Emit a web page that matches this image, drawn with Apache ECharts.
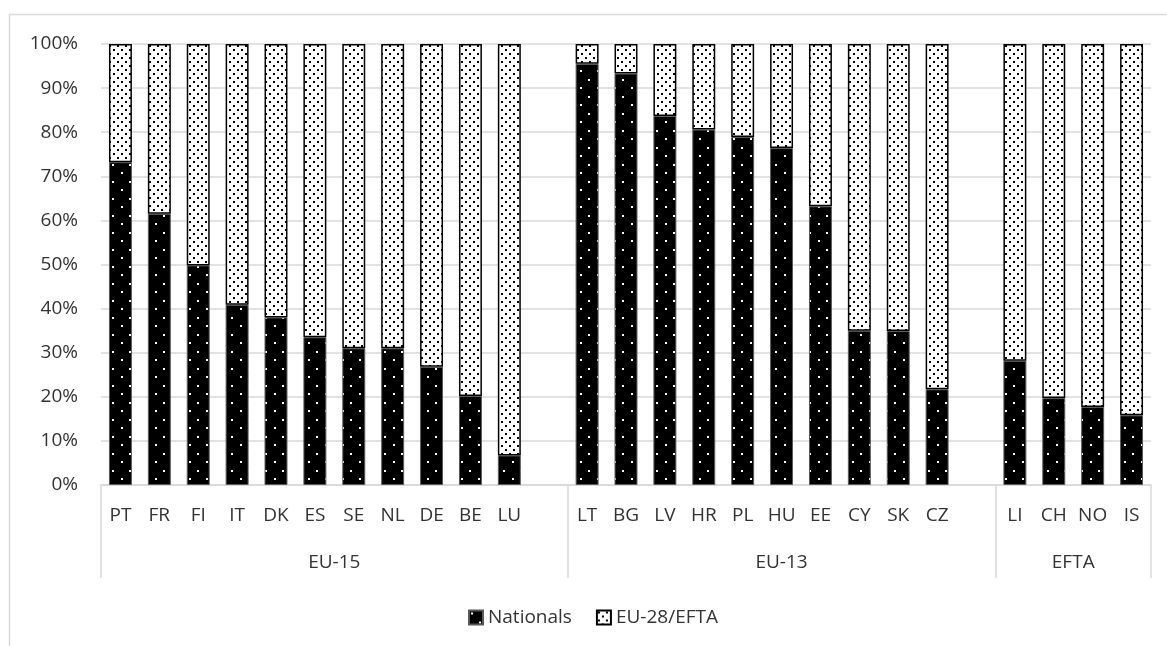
<!DOCTYPE html>
<html>
<head>
<meta charset="utf-8">
<script src="https://cdn.jsdelivr.net/npm/echarts@6/dist/echarts.min.js"></script>
<style>
  html, body { margin: 0; padding: 0; background: #fff; }
  #main { width: 1167px; height: 646px; }
</style>
</head>
<body>
<div id="main"></div>
<script>
// countries, with an empty slot between the groups
var countries = ['PT','FR','FI','IT','DK','ES','SE','NL','DE','BE','LU','',
                 'LT','BG','LV','HR','PL','HU','EE','CY','SK','CZ','',
                 'LI','CH','NO','IS'];
var groups = ['EU-15', 'EU-13', 'EFTA'];
var groupEdges = [0, 12, 23, 27];
var groupCenters = [6, 17.5, 25];

var nationals = [73.2, 61.5, 49.8, 40.9, 38.0, 33.5, 31.0, 31.0, 26.8, 20.2, 6.7, null,
                 95.5, 93.3, 83.7, 80.6, 78.9, 76.4, 63.2, 35.0, 34.9, 21.7, null,
                 28.2, 19.7, 17.7, 15.8];
var eu28 = [26.8, 38.5, 50.2, 59.1, 62.0, 66.5, 69.0, 69.0, 73.2, 79.8, 93.3, null,
            4.5, 6.7, 16.3, 19.4, 21.1, 23.6, 36.8, 65.0, 65.1, 78.3, null,
            71.8, 80.3, 82.3, 84.2];
var yTicks = [0, 100, 10];

var fontFamily = '"Open Sans", "Noto Sans", sans-serif';
var fontSize = 19;
var textColor = '#333';
var lineGray = '#d9d9d9';

// dotted fills like the Excel pattern fills
function dots(bg, fg, w, h, pts) {
    var c = document.createElement('canvas');
    c.width = w; c.height = h;
    var ctx = c.getContext('2d');
    ctx.fillStyle = bg;
    ctx.fillRect(0, 0, w, h);
    ctx.fillStyle = fg;
    pts.forEach(function (p) { ctx.fillRect(p[0], p[1], 2, 2); });
    return c;
}
var darkFill = { image: dots('#000', '#fff', 17, 17, [[2, 2], [10, 11]]), repeat: 'repeat' };
var lightFill = { image: dots('#fff', '#000', 8, 8, [[1, 1], [5, 5]]), repeat: 'repeat' };

var myChart = echarts.init(document.getElementById('main'));
var option = {
    animation: false,
    textStyle: { fontFamily: fontFamily },
    graphic: [{
        type: 'rect',
        shape: { x: 9.5, y: 14.5, width: 1300, height: 800 },
        style: { fill: 'none', stroke: lineGray, lineWidth: 1.5 },
        silent: true
    }],
    grid: { left: 101, right: 16, top: 44, bottom: 161 },
    legend: {
        top: 603,
        left: 463,
        icon: 'rect',
        itemWidth: 14,
        itemHeight: 14,
        itemGap: 24,
        textStyle: { fontSize: fontSize, color: textColor, fontFamily: fontFamily },
        data: ['Nationals', 'EU-28/EFTA']
    },
    xAxis: [
        {
            type: 'category',
            data: countries,
            axisLine: { lineStyle: { color: lineGray, width: 1.5 } },
            axisTick: { show: false },
            axisLabel: { interval: 0, fontSize: fontSize, color: textColor, margin: 21 }
        },
        {
            type: 'value',
            min: 0,
            max: countries.length,
            position: 'bottom',
            axisLine: { show: false },
            splitLine: { show: false },
            axisTick: {
                show: true,
                customValues: groupEdges,
                length: 93,
                lineStyle: { color: lineGray, width: 1.5 }
            },
            axisLabel: {
                customValues: groupCenters,
                margin: 68,
                fontSize: fontSize,
                color: textColor,
                formatter: function (v) {
                    var i = groupCenters.indexOf(v);
                    return i >= 0 ? groups[i] : '';
                }
            }
        }
    ],
    yAxis: {
        type: 'value',
        min: yTicks[0],
        max: yTicks[1],
        interval: yTicks[2],
        axisLine: { show: false },
        axisTick: { show: false },
        axisLabel: { formatter: '{value}%', fontSize: fontSize, color: textColor, margin: 23 },
        splitLine: { lineStyle: { color: lineGray, width: 1.5 } }
    },
    series: [
        {
            name: 'Nationals',
            type: 'bar',
            stack: 'share',
            data: nationals,
            barCategoryGap: '41%',
            itemStyle: { color: darkFill, borderColor: '#595959', borderWidth: 1 }
        },
        {
            name: 'EU-28/EFTA',
            type: 'bar',
            stack: 'share',
            data: eu28,
            barCategoryGap: '41%',
            itemStyle: { color: lightFill, borderColor: '#000', borderWidth: 1.5 }
        }
    ]
};
myChart.setOption(option);
</script>
</body>
</html>
